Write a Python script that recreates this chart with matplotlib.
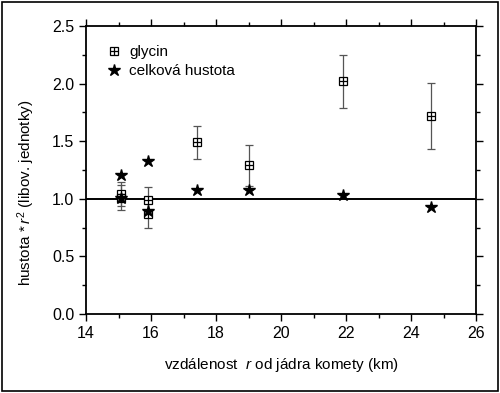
import matplotlib
matplotlib.use("Agg")
import matplotlib.pyplot as plt
from matplotlib.ticker import MultipleLocator
from matplotlib.patches import Rectangle
from matplotlib.legend_handler import HandlerTuple

plt.rcParams['font.family'] = ['Liberation Sans', 'DejaVu Sans']
plt.rcParams['mathtext.fontset'] = 'custom'
plt.rcParams['mathtext.rm'] = 'Liberation Sans'
plt.rcParams['mathtext.it'] = 'Liberation Sans:italic'

# glycin data
gly_x = [15.08, 15.08, 15.9, 15.9, 17.4, 19.0, 21.9, 24.6]
gly_y = [1.04, 1.01, 0.99, 0.87, 1.49, 1.29, 2.02, 1.72]
gly_err = [0.105, 0.11, 0.11, 0.12, 0.145, 0.175, 0.23, 0.285]

# total density
tot_x = [15.08, 15.08, 15.9, 15.9, 17.4, 19.0, 21.9, 24.6]
tot_y = [1.21, 1.01, 1.33, 0.89, 1.08, 1.08, 1.03, 0.93]

ref_level = 1.0
xlim = (14, 26)
ylim = (0.0, 2.5)

fig = plt.figure(figsize=(5.0, 3.93), dpi=100)
ax = fig.add_axes([0.172, 0.201, 0.780, 0.733])

ax.axhline(ref_level, color='black', lw=1.4, zorder=1)

ax.errorbar(gly_x, gly_y, yerr=gly_err, fmt='none', ecolor='#555555',
            elinewidth=0.9, capsize=2.6, capthick=0.9, zorder=2)
h_sq, = ax.plot(gly_x, gly_y, ls='none', marker='s', ms=5.6, mfc='white',
                mec='black', mew=0.9, zorder=3)
h_pl, = ax.plot(gly_x, gly_y, ls='none', marker='+', ms=5.6, mec='black',
                mew=0.9, zorder=4)
h_st, = ax.plot(tot_x, tot_y, ls='none', marker='*', ms=9, mfc='black',
                mec='black', zorder=5)

ax.set_xlim(*xlim)
ax.set_ylim(*ylim)
ax.xaxis.set_major_locator(MultipleLocator(2))
ax.xaxis.set_minor_locator(MultipleLocator(1))
ax.yaxis.set_major_locator(MultipleLocator(0.5))
ax.yaxis.set_minor_locator(MultipleLocator(0.25))
ax.yaxis.set_major_formatter(plt.FuncFormatter(lambda v, p: f"{v:.1f}"))
ax.tick_params(which='both', direction='out', top=True, right=True,
               labelsize=11.5, width=1.0)
ax.tick_params(which='major', length=5)
ax.tick_params(which='minor', length=3)
for s in ax.spines.values():
    s.set_linewidth(1.3)

ax.set_xlabel("vzdálenost  $r$ od jádra komety (km)", fontsize=11, labelpad=11)
ax.set_ylabel("hustota $*\\,r^{2}$ (libov. jednotky)", fontsize=11)
ax.yaxis.set_label_coords(-0.125, 0.42)

leg = ax.legend([(h_sq, h_pl), h_st], ["glycin", "celková hustota"],
                handler_map={tuple: HandlerTuple(ndivide=1)},
                loc='upper left', bbox_to_anchor=(0.02, 0.98), frameon=False,
                fontsize=11, handlelength=0.9, handletextpad=0.5,
                labelspacing=0.3, markerscale=1.0)

fig.patches.append(Rectangle((0.004, 0.006), 0.992, 0.988, transform=fig.transFigure,
                             fill=False, ec='black', lw=1.2))

fig.savefig("out.png", dpi=100)
